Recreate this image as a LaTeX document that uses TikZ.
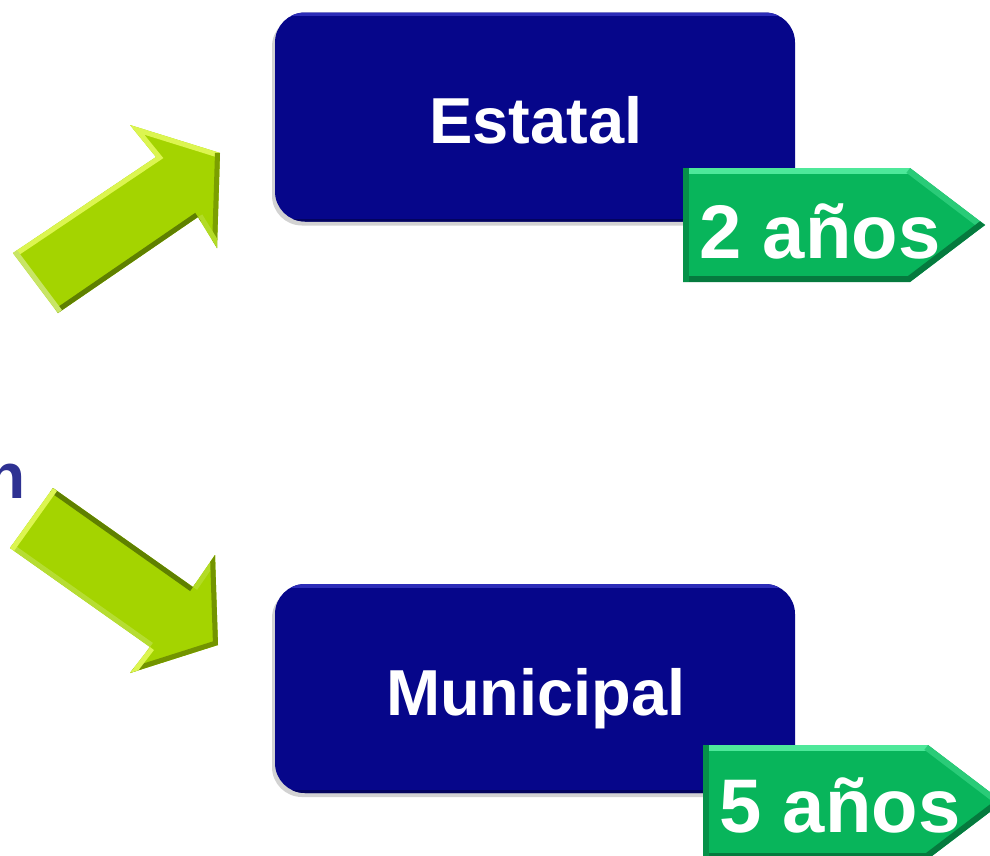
\documentclass[tikz,border=0pt]{standalone}
\usepackage{fontspec}
\setmainfont{Liberation Sans}
\usetikzlibrary{shadows}
\definecolor{navy}{HTML}{06068A}
\definecolor{navyhi}{HTML}{2C2CB8}
\definecolor{navylo}{HTML}{03035E}
\definecolor{grn}{HTML}{08B55B}
\definecolor{grnhi}{HTML}{4EE89A}
\definecolor{grnmid}{HTML}{2ACB78}
\definecolor{grnlo}{HTML}{057A3E}
\definecolor{lim}{HTML}{A4D400}
\definecolor{limhi}{HTML}{DCF550}
\definecolor{limlo}{HTML}{5F8000}
\definecolor{txtblue}{HTML}{2E3192}
\begin{document}
\begin{tikzpicture}[x=1pt,y=-1pt,
  bluebox/.style={fill=navy, rounded corners=30pt, inner sep=0, minimum width=520pt, minimum height=209pt,
    drop shadow={shadow xshift=-3pt, shadow yshift=-4pt, opacity=0.35},
    path picture={
      \draw[navyhi,line width=7pt] (path picture bounding box.north west) -- (path picture bounding box.north east);
      \draw[navylo,line width=6pt] (path picture bounding box.south west) -- (path picture bounding box.south east);
    }},
  boxlbl/.style={text=white, font=\bfseries\fontsize{65}{65}\selectfont, inner sep=0, anchor=base},
  tagbl/.style={text=white, font=\bfseries\fontsize{76}{76}\selectfont, inner sep=0, anchor=base},
  bev/.style={line width=12pt, line join=miter}
]
\clip (0,0) rectangle (990,855);
\fill[white] (0,0) rectangle (990,855);

% partial word at left
\node[anchor=base east, inner sep=0, text=txtblue, font=\bfseries\fontsize{64}{64}\selectfont] (ntext) at (26,498) {n};

% blue boxes
\node[bluebox] (estatal) at (535,117) {};
\node[boxlbl] (estataltext) at (536,143) {Estatal};
\node[bluebox] (municipal) at (535,688.5) {};
\node[boxlbl] (municipaltext) at (536,715) {Municipal};

% green tag 2 años
\begin{scope}
  \clip (683,168) -- (910,168) -- (985,225) -- (910,282) -- (683,282) -- cycle;
  \fill[grn] (683,168) rectangle (990,282);
  \draw[bev,grnhi] (683,168) -- (910,168);
  \draw[bev,grnmid] (910,168) -- (985,225);
  \draw[bev,grnlo] (985,225) -- (910,282) -- (683,282);
  \draw[bev,grn!80!black] (683,282) -- (683,168);
\end{scope}
\node[tagbl] (tag2) at (820,258) {2 años};

% green tag 5 años
\begin{scope}
  \clip (703,745) -- (928,745) -- (1003,802) -- (928,859) -- (703,859) -- cycle;
  \fill[grn] (703,745) rectangle (1010,859);
  \draw[bev,grnhi] (703,745) -- (928,745);
  \draw[bev,grnmid] (928,745) -- (1003,802);
  \draw[bev,grnlo] (1003,802) -- (928,859) -- (703,859);
  \draw[bev,grn!80!black] (703,859) -- (703,745);
\end{scope}
\node[tagbl] (tag5) at (840,832) {5 años};

% upper yellow-green arrow
\begin{scope}
  \clip (13,253) -- (156,157) -- (130,125) -- (220,153) -- (217,248) -- (198,217) -- (58,313) -- cycle;
  \fill[lim] (0,100) rectangle (240,330);
  \draw[line width=10pt,limhi] (13,253) -- (156,157) -- (130,125) -- (220,153);
  \draw[line width=10pt,lim!75!black] (220,153) -- (217,248);
  \draw[line width=10pt,lim!85!white] (217,248) -- (198,217);
  \draw[line width=10pt,limlo] (198,217) -- (58,313);
  \draw[line width=10pt,lim!60!white] (58,313) -- (13,253);
\end{scope}

% lower yellow-green arrow
\begin{scope}
  \clip (53,488) -- (193,587) -- (215,555) -- (218,645) -- (130,673) -- (150,647) -- (10,548) -- cycle;
  \fill[lim] (0,470) rectangle (240,690);
  \draw[line width=10pt,limlo] (53,488) -- (193,587);
  \draw[line width=10pt,lim!85!white] (193,587) -- (215,555);
  \draw[line width=10pt,lim!70!black] (215,555) -- (218,645) -- (130,673);
  \draw[line width=10pt,limhi] (130,673) -- (150,647);
  \draw[line width=10pt,lim!80!white] (150,647) -- (10,548);
  \draw[line width=10pt,limhi] (10,548) -- (53,488);
\end{scope}
\end{tikzpicture}
\end{document}
